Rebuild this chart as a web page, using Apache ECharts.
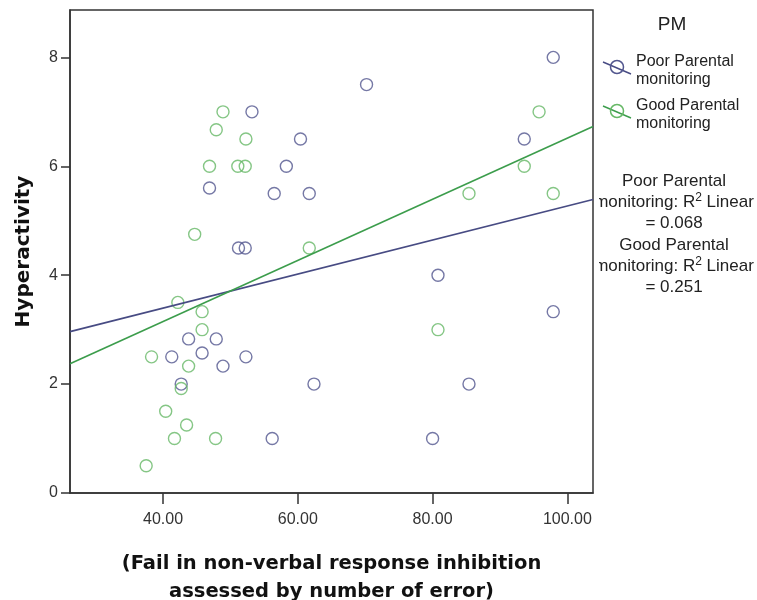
<!DOCTYPE html>
<html>
<head>
<meta charset="utf-8">
<script src="https://cdn.jsdelivr.net/npm/echarts@6/dist/echarts.min.js"></script>
<style>
  html, body { margin: 0; padding: 0; background: #fff; }
  #chart { width: 757px; height: 600px; }
</style>
</head>
<body>
<div id="chart"></div>
<script>
// ---- data ----
const xAxisRange = [26.2, 103.8];
const yAxisRange = [0, 8.87];
const xTicks = [40, 60, 80, 100];
const yTicks = [0, 2, 4, 6, 8];

const groupNames = ['Poor Parental monitoring', 'Good Parental monitoring'];
const groupLegendLabels = ['Poor Parental\nmonitoring', 'Good Parental\nmonitoring'];
const r2Labels = ['0.068', '0.251'];

const poorX = [53.2, 60.4, 58.3, 46.9, 56.5, 61.7, 51.2, 52.2, 70.2, 97.9, 93.6, 43.8, 47.9, 41.3, 45.8, 52.3, 48.9, 42.7, 62.4, 56.2, 80.8, 97.9, 85.4, 80.0];
const poorY = [7, 6.5, 6, 5.6, 5.5, 5.5, 4.5, 4.5, 7.5, 8, 6.5, 2.83, 2.83, 2.5, 2.57, 2.5, 2.33, 2, 2, 1, 4, 3.33, 2, 1];
const goodX = [48.9, 47.9, 52.3, 46.9, 51.1, 52.2, 44.7, 61.7, 95.8, 93.6, 85.4, 97.9, 42.2, 45.8, 45.8, 38.3, 43.8, 42.7, 40.4, 43.5, 41.7, 47.8, 37.5, 80.8];
const goodY = [7, 6.67, 6.5, 6, 6, 6, 4.75, 4.5, 7, 6, 5.5, 5.5, 3.5, 3.33, 3, 2.5, 2.33, 1.92, 1.5, 1.25, 1, 1, 0.5, 3];

const xTitle = '(Fail in non-verbal response inhibition\nassessed by number of error)';
const yTitle = 'Hyperactivity';
const legendTitle = 'PM';

// ---- styling ----
const markerColors = ['#52568e', '#66b866'];
const lineColors = ['#474b83', '#3c9d4c'];
const textFont = "'Liberation Sans', Arial, sans-serif";
const titleFont = "'DejaVu Sans', Verdana, sans-serif";

function pairs(xs, ys) { return xs.map((x, i) => [x, ys[i]]); }
function fit(xs, ys) {
  const n = xs.length;
  const mx = xs.reduce((a, b) => a + b, 0) / n;
  const my = ys.reduce((a, b) => a + b, 0) / n;
  let sxy = 0, sxx = 0;
  for (let i = 0; i < n; i++) { sxy += (xs[i] - mx) * (ys[i] - my); sxx += (xs[i] - mx) ** 2; }
  const b = sxy / sxx, a = my - b * mx;
  return xAxisRange.map(x => [x, a + b * x]);
}

const groups = [pairs(poorX, poorY), pairs(goodX, goodY)];
const fits = [fit(poorX, poorY), fit(goodX, goodY)];

const series = [];
groups.forEach((d, i) => {
  series.push({
    name: groupNames[i], type: 'scatter', data: d, symbol: 'circle', symbolSize: 12,
    itemStyle: { color: 'rgba(0,0,0,0)', borderColor: markerColors[i], borderWidth: 1.4 },
    z: 2, silent: true
  });
});
fits.forEach((d, i) => {
  series.push({
    name: groupNames[i] + ' fit', type: 'line', data: d, symbol: 'none',
    lineStyle: { color: lineColors[i], width: 1.6 }, z: 3, silent: true, animation: false
  });
});

// legend & R2 graphics
const graphics = [];
graphics.push({
  type: 'text', x: 672, y: 25,
  style: { text: legendTitle, font: '19px ' + textFont, fill: '#222', align: 'center', verticalAlign: 'middle' }
});
const legendY = [67, 111];
groupLegendLabels.forEach((lab, i) => {
  const cy = legendY[i];
  graphics.push({ type: 'line', shape: { x1: 603, y1: cy - 5, x2: 631, y2: cy + 7 }, style: { stroke: lineColors[i], lineWidth: 1.4 } });
  graphics.push({ type: 'circle', shape: { cx: 617, cy: cy, r: 6.5 }, style: { fill: 'none', stroke: markerColors[i], lineWidth: 1.5 } });
  graphics.push({
    type: 'text', x: 636, y: cy + 4,
    style: { text: lab, font: '16px ' + textFont, fill: '#222', align: 'left', verticalAlign: 'middle', lineHeight: 18 }
  });
});
const r2Y = [202, 266];
r2Labels.forEach((v, i) => {
  const nm = groupNames[i].split(' ');
  const first = nm.slice(0, 2).join(' ');
  const second = nm.slice(2).join(' ');
  graphics.push({
    type: 'text', x: 674, y: r2Y[i],
    style: {
      text: '{t|' + first + '}\n{t|' + second + ': R}{s|2}{t| Linear}\n{t|= ' + v + '}',
      align: 'center', verticalAlign: 'middle', fill: '#222',
      rich: {
        t: { fontSize: 17, fontFamily: textFont, lineHeight: 21, fill: '#222', verticalAlign: 'middle' },
        s: { fontSize: 12, fontFamily: textFont, lineHeight: 21, fill: '#222', verticalAlign: 'top' }
      }
    }
  });
});
graphics.push({ type: 'rect', shape: { x: 594.5, y: 188, width: 4.5, height: 90 }, style: { fill: '#fff' }, z: 100 });

const chart = echarts.init(document.getElementById('chart'), null, { renderer: 'canvas' });
chart.setOption({
  animation: false,
  backgroundColor: '#fff',
  grid: {
    left: 70, right: 164, top: 10, bottom: 107, containLabel: false, outerBoundsMode: 'none',
    show: true, borderColor: '#333', borderWidth: 1.5, backgroundColor: 'transparent'
  },
  xAxis: {
    type: 'value', min: xAxisRange[0], max: xAxisRange[1],
    name: xTitle, nameLocation: 'middle', nameGap: 57,
    nameTextStyle: { fontFamily: titleFont, fontWeight: 'bold', fontSize: 19.5, color: '#111', lineHeight: 28 },
    axisLine: { show: true, onZero: false, lineStyle: { color: '#333', width: 1.5 } },
    axisTick: { show: true, length: 11, customValues: xTicks, lineStyle: { color: '#333', width: 1.5 } },
    axisLabel: { show: true, customValues: xTicks, margin: 19, fontSize: 16, fontFamily: textFont, color: '#333', formatter: v => v.toFixed(2) },
    splitLine: { show: false }
  },
  yAxis: {
    type: 'value', min: yAxisRange[0], max: yAxisRange[1],
    name: yTitle, nameLocation: 'middle', nameGap: 36,
    nameTextStyle: { fontFamily: titleFont, fontWeight: 'bold', fontSize: 20, color: '#111' },
    axisLine: { show: true, onZero: false, lineStyle: { color: '#333', width: 1.5 } },
    axisTick: { show: true, length: 9, customValues: yTicks, lineStyle: { color: '#333', width: 1.5 } },
    axisLabel: { show: true, customValues: yTicks, margin: 12, fontSize: 16, fontFamily: textFont, color: '#333', formatter: v => String(v) },
    splitLine: { show: false }
  },
  series: series,
  graphic: graphics
});
</script>
</body>
</html>
